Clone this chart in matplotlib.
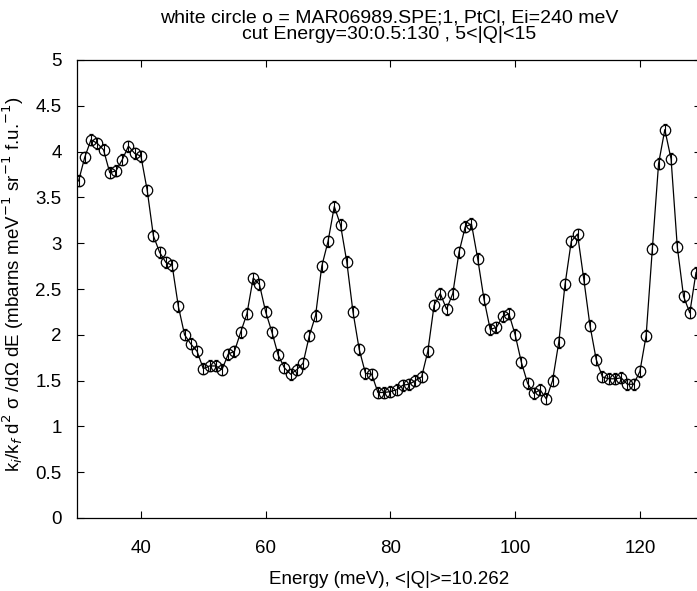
import matplotlib
matplotlib.use("Agg")
import matplotlib.pyplot as plt
from matplotlib.ticker import FuncFormatter

# --- data (Energy in meV, 1 meV spacing) ---
energy = [30, 31, 32, 33, 34, 35, 36, 37, 38, 39,
          40, 41, 42, 43, 44, 45, 46, 47, 48, 49,
          50, 51, 52, 53, 54, 55, 56, 57, 58, 59,
          60, 61, 62, 63, 64, 65, 66, 67, 68, 69,
          70, 71, 72, 73, 74, 75, 76, 77, 78, 79,
          80, 81, 82, 83, 84, 85, 86, 87, 88, 89,
          90, 91, 92, 93, 94, 95, 96, 97, 98, 99,
          100, 101, 102, 103, 104, 105, 106, 107, 108, 109,
          110, 111, 112, 113, 114, 115, 116, 117, 118, 119,
          120, 121, 122, 123, 124, 125, 126, 127, 128, 129]
intensity = [3.68, 3.94, 4.13, 4.09, 4.02, 3.77, 3.79, 3.91, 4.06, 3.98,
             3.95, 3.58, 3.08, 2.90, 2.79, 2.76, 2.31, 2.00, 1.90, 1.82,
             1.63, 1.66, 1.66, 1.62, 1.79, 1.82, 2.03, 2.23, 2.62, 2.55,
             2.25, 2.03, 1.78, 1.64, 1.57, 1.62, 1.69, 1.99, 2.21, 2.75,
             3.02, 3.40, 3.20, 2.80, 2.25, 1.84, 1.58, 1.57, 1.37, 1.37,
             1.38, 1.40, 1.45, 1.46, 1.50, 1.54, 1.82, 2.32, 2.45, 2.28,
             2.45, 2.90, 3.18, 3.21, 2.83, 2.39, 2.06, 2.08, 2.20, 2.23,
             2.00, 1.70, 1.47, 1.36, 1.40, 1.30, 1.50, 1.92, 2.55, 3.02,
             3.10, 2.61, 2.10, 1.73, 1.54, 1.52, 1.52, 1.53, 1.46, 1.46,
             1.60, 1.99, 2.94, 3.87, 4.24, 3.92, 2.96, 2.42, 2.24, 2.68]
ERR = 0.06  # error bar half-height, roughly constant in the scan

x_ticks = [40, 60, 80, 100, 120]
y_ticks = [0, 0.5, 1, 1.5, 2, 2.5, 3, 3.5, 4, 4.5, 5]

plt.rcParams['font.family'] = ['Liberation Sans', 'DejaVu Sans']

W, H = 697, 591
fig = plt.figure(figsize=(W / 100, H / 100), dpi=100)
# axes box: left spine ~77px, top ~60px, bottom ~518px, right spine just off the page
ax = fig.add_axes([77 / W, (H - 518) / H, 624 / W, 458 / H])

ax.errorbar(energy, intensity, yerr=ERR, fmt='-o', color='black',
            lw=0.9, ms=7.5, mfc='none', mec='black', mew=0.9,
            elinewidth=0.8, capsize=1.5, capthick=0.8)

ax.set_xlim(29.75, 129.8)
ax.set_ylim(0, 5)
ax.set_xticks(x_ticks)
ax.set_yticks(y_ticks)
ax.yaxis.set_major_formatter(FuncFormatter(lambda v, p: f"{v:g}"))
ax.tick_params(direction='in', top=True, right=True, length=5, width=0.8,
               labelsize=13.5)
ax.tick_params(axis='x', pad=16)
ax.tick_params(axis='y', pad=11)
for s in ax.spines.values():
    s.set_linewidth(0.9)

ax.set_xlabel("Energy (meV), <|Q|>=10.262", fontsize=13.5, labelpad=10)
ax.set_ylabel(r"k$_i$/k$_f$ d$^2$ σ /dΩ dE (mbarns meV$^{-1}$ sr$^{-1}$ f.u.$^{-1}$)",
              fontsize=13.5)
ax.yaxis.set_label_coords(-0.081, 0.51)
ax.set_title("white circle o = MAR06989.SPE;1, PtCl, Ei=240 meV\n"
             "cut Energy=30:0.5:130 , 5<|Q|<15", fontsize=14, pad=15,
             linespacing=1.0)

fig.savefig("out.png", dpi=100)
